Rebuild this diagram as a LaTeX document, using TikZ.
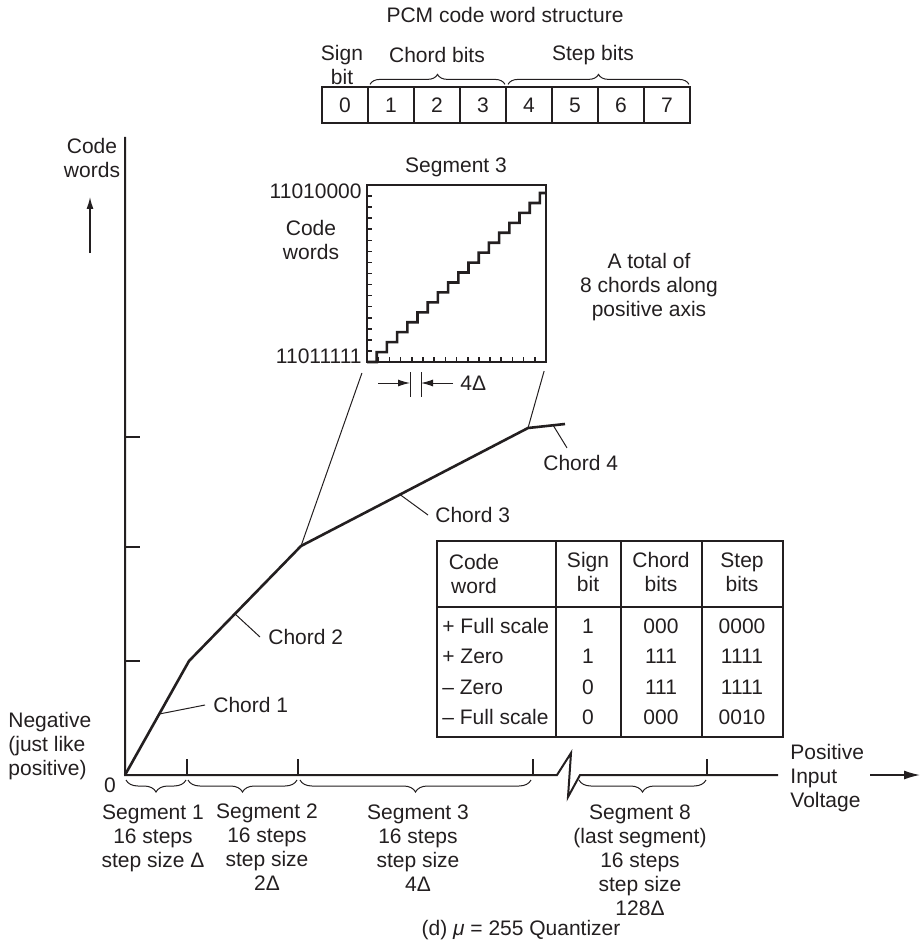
\documentclass[tikz,border=0pt]{standalone}
\usepackage{fontspec}
\setmainfont{Liberation Sans}
\usepackage{tikz}
\usetikzlibrary{arrows.meta,calc,decorations.pathreplacing}
\definecolor{Ink}{HTML}{231F20}
\tikzset{
  txt/.style={text=Ink, inner sep=0pt, align=center, font=\fontsize{10.5}{12}\selectfont},
  bitcell/.style={draw=Ink, line width=1pt, minimum width=23pt, minimum height=18pt,
    inner sep=0pt, text=Ink, font=\fontsize{10.5}{12}\selectfont},
  axisline/.style={draw=Ink, line width=1pt},
  thinline/.style={draw=Ink, line width=0.5pt},
  curveline/.style={draw=Ink, line width=1.3pt, line join=round},
  gridline/.style={draw=Ink, line width=1.1pt},
  bracetop/.style={draw=Ink, line width=0.5pt, decorate, decoration={brace, amplitude=5pt}},
  bracebot/.style={draw=Ink, line width=0.5pt, decorate, decoration={brace, mirror, amplitude=6pt}},
  smalltip/.style={-{Latex[length=6pt,width=3.5pt]}}
}

\begin{document}
\begin{tikzpicture}[x=0.5pt, y=-0.5pt]
\useasboundingbox (0,0) rectangle (921,941);

% code word structure
\node[txt] (pcm) at (505,15) {PCM code word structure};
\foreach \b in {0,...,7}
  \node[bitcell] (b\b) at ({345+46*\b},105) {\b};
\node[txt] (signbit) at (342,65) {Sign\\bit};
\node[txt] (chordbits) at (437,55) {Chord bits};
\node[txt] (stepbits) at (593,55) {Step bits};
\draw[bracetop] ([xshift=1.5pt,yshift=0.8pt]b1.north west) -- ([xshift=-1pt,yshift=0.8pt]b3.north east);
\draw[bracetop] ([xshift=1.5pt,yshift=0.8pt]b4.north west) -- ([xshift=-1pt,yshift=0.8pt]b7.north east);

% axes
\coordinate (o) at (125,775);
\coordinate (ytop) at (125,137);
\coordinate (xend) at (778,775);
\draw[axisline] (ytop) -- (o) -- (557,775) -- (571,753) -- (568,797) -- (580,775) -- (xend);
\foreach \yy in {661,547,437}
  \draw[axisline] (125,\yy) -- (140,\yy);
\foreach \xx in {187,298,533,707}
  \draw[axisline] (\xx,775) -- (\xx,759);
\node[txt] (zero) at (110,785) {0};

\node[txt] (cwaxis) at (92,158) {Code\\words};
\coordinate (yarrA) at (90,253);
\coordinate (yarrB) at (90,197);
\draw[thinline, line width=0.7pt, smalltip] (yarrA) -- (yarrB);

\node[txt, anchor=west, align=left] (neg) at (8,746) {Negative\\(just like\\positive)};
\node[txt, anchor=west, align=left] (posv) at (790,778) {Positive\\Input\\Voltage};
\coordinate (arrA) at (870,775);
\coordinate (arrB) at (920,775);
\draw[axisline, line width=0.7pt, -{Latex[length=8pt,width=4.5pt]}] (arrA) -- (arrB);

% segments
\draw[bracebot] (126,780) -- (186,780);
\draw[bracebot] (188,780) -- (297,780);
\draw[bracebot] (300,780) -- (531,780);
\draw[bracebot] (579,780) -- (706,780);
\node[txt] (seg1) at (153,838) {Segment 1\\16 steps\\step size Δ};
\node[txt] (seg2) at (267,847) {Segment 2\\16 steps\\step size\\2Δ};
\node[txt] (seg3) at (418,848) {Segment 3\\16 steps\\step size\\4Δ};
\node[txt] (seg8) at (640,860) {Segment 8\\(last segment)\\16 steps\\step size\\128Δ};
\node[txt] (caption) at (521,930) {(d) \textit{μ} = 255 Quantizer};

% companding curve
\coordinate (k1) at (189,661);
\coordinate (k2) at (301,546);
\coordinate (k3) at (528,428);
\coordinate (k4) at (565,424);
\draw[curveline] (o) -- (k1) -- (k2) -- (k3) -- (k4);

\node[txt, anchor=west] (ch1) at (213,705) {Chord 1};
\node[txt, anchor=west] (ch2) at (268,637) {Chord 2};
\node[txt, anchor=west] (ch3) at (435,515) {Chord 3};
\node[txt, anchor=west] (ch4) at (543,463) {Chord 4};
\draw[thinline] ($(o)!0.535!(k1)$) -- ([xshift=-4pt]ch1.west);
\draw[thinline] ($(k1)!0.41!(k2)$) -- ([xshift=-4pt]ch2.west);
\draw[thinline] ($(k2)!0.436!(k3)$) -- ([xshift=-3.5pt]ch3.west);
\draw[thinline] ($(k3)!0.68!(k4)$) -- ($(ch4.north west)+(24,-7)$);

% segment 3 close-up
\node[draw=Ink, line width=1.1pt, minimum width=89.5pt, minimum height=88.5pt, inner sep=0pt] (inset) at (456.5,273.5) {};
\foreach \i in {1,...,15} {
  \draw[thinline, line width=0.8pt] ({367+\i*11.19},362) -- ({367+\i*11.19},357);
  \draw[thinline, line width=0.8pt] (367,{185+\i*11.06}) -- (372,{185+\i*11.06});
}
\draw[curveline, line join=miter] (367,362)
  \foreach \k in {0,...,16} { -- ({376.7+10.2*\k},{362-9.94*\k}) -- ({376.7+10.2*\k},{362-9.94*(\k+1)}) }
  -- (546,193);
\node[txt] (segtitle) at (456,167) {Segment 3};
\node[txt, anchor=east] (cwhi) at (362,191) {11010000};
\node[txt, anchor=east] (cwlo) at (362,356) {11011111};
\node[txt] (cwinset) at (311,240) {Code\\words};
\draw[thinline] ($(inset.south west)+(-4,10)$) -- (k2);
\draw[thinline] ($(inset.south east)+(-3,8)$) -- (k3);

\coordinate (dl) at (410,383);
\coordinate (dr) at (421,383);
\draw[thinline] (410,372) -- (410,397);
\draw[thinline] (421,372) -- (421,397);
\node[txt, anchor=west] (fourdelta) at (460,383) {4Δ};
\draw[thinline, smalltip] (378,383) -- (dl);
\draw[thinline, smalltip] ([xshift=-3.5pt]fourdelta.west) -- (dr);

\node[txt] (total) at (649,287) {A total of\\8 chords along\\positive axis};

% code word table
\coordinate (tnw) at (437,541);
\coordinate (tse) at (783,737);
\draw[gridline] (tnw) rectangle (tse);
\draw[gridline] (437,607) -- (783,607);
\foreach \xx in {556,621,702}
  \draw[gridline] (\xx,541) -- (\xx,737);
\node[txt] (hcw) at (474,574) {Code\\word};
\node[txt] (hsign) at (588,572) {Sign\\bit};
\node[txt] (hchord) at (661,572) {Chord\\bits};
\node[txt] (hstep) at (742,572) {Step\\bits};
\foreach \lab/\sg/\ch/\st [count=\r] in {{+ Full scale}/1/000/0000, {+ Zero}/1/111/1111,
    {– Zero}/0/111/1111, {– Full scale}/0/000/0010} {
  \node[txt, anchor=base west] (lab\r) at (442,{633+30.5*(\r-1)}) {\lab};
  \node[txt] (sg\r) at (588,{626+30.5*(\r-1)}) {\sg};
  \node[txt] (ch\r) at (661,{626+30.5*(\r-1)}) {\ch};
  \node[txt] (st\r) at (742,{626+30.5*(\r-1)}) {\st};
}
\end{tikzpicture}
\end{document}
